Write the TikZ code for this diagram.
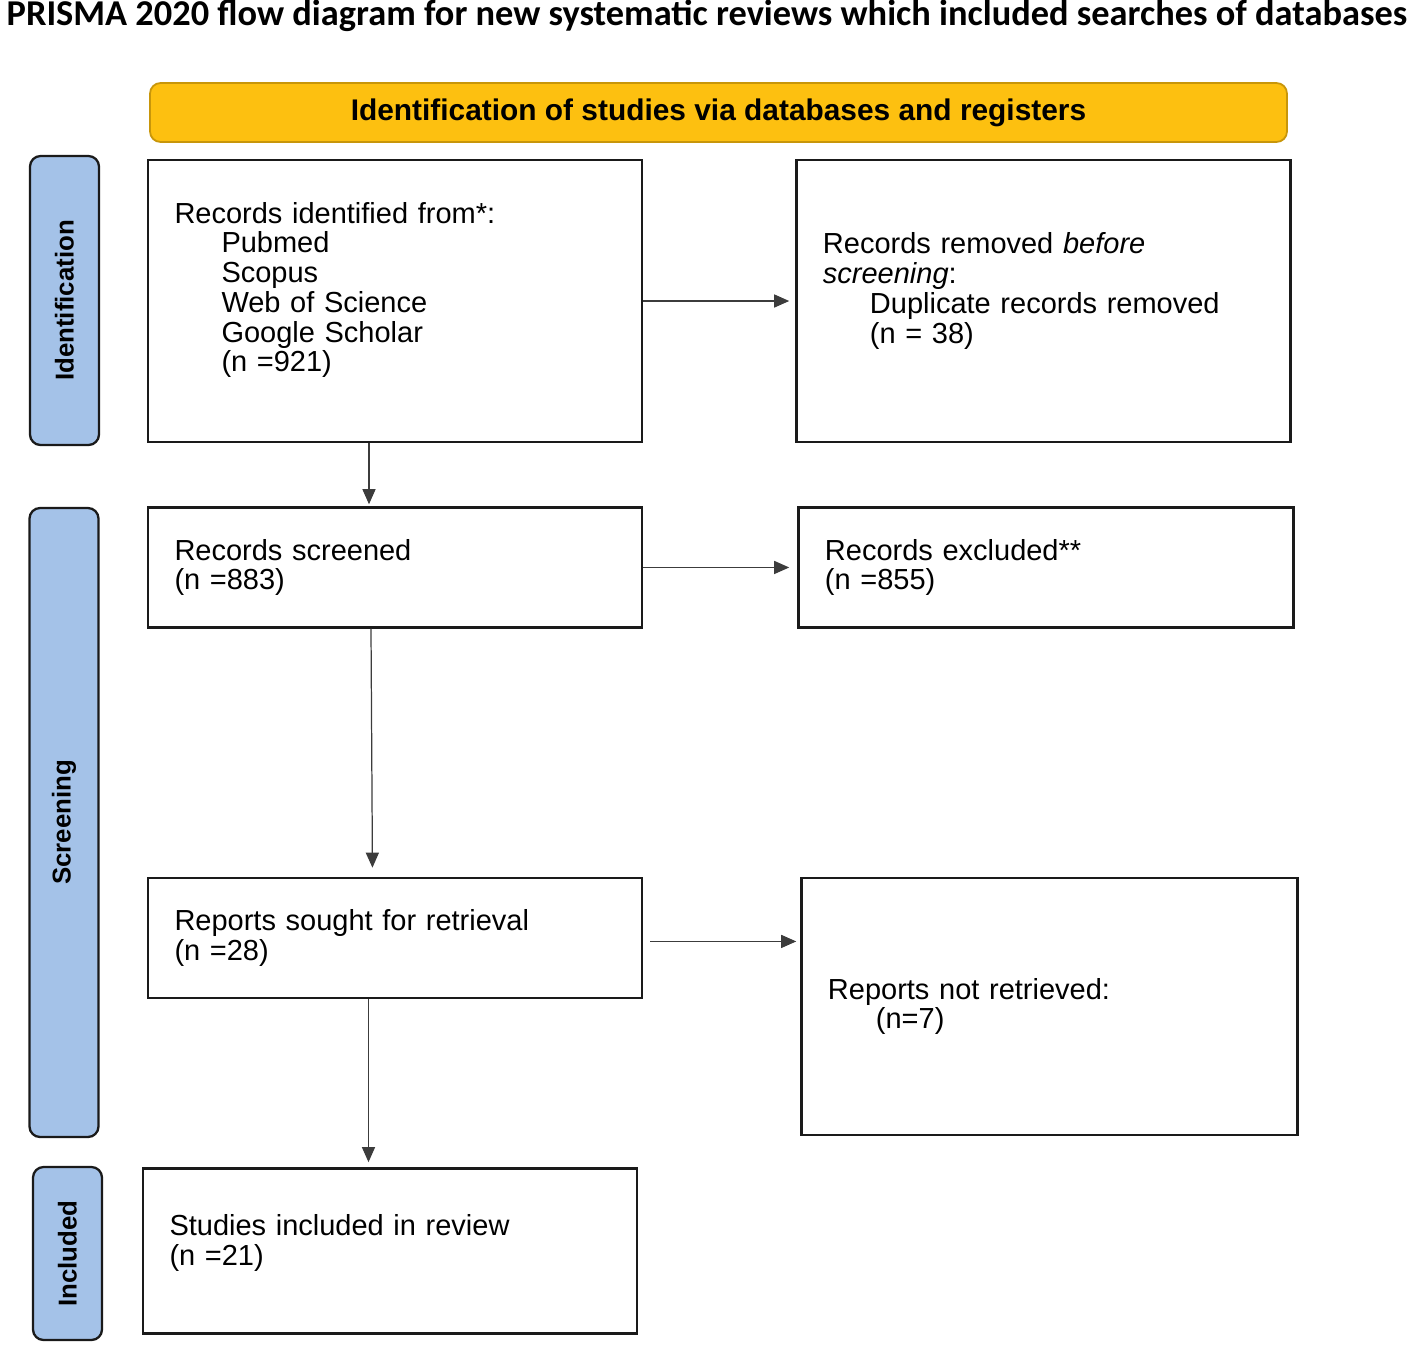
\documentclass[tikz,border=0pt]{standalone}
\usepackage{fontspec}
\setmainfont{Liberation Sans}
\newfontfamily\calfont{Carlito}
\usetikzlibrary{arrows.meta,positioning}
\definecolor{Gold}    {HTML}{FDC010}
\definecolor{GoldEdge}{HTML}{C8960A}
\definecolor{Sky}     {HTML}{A4C2E8}
\definecolor{Ink}     {HTML}{1A1A1A}

\begin{document}
\begin{tikzpicture}[
  box/.style={draw=Ink,line width=1.4pt,rectangle,fill=white,
    font=\fontsize{16.5}{16.9}\selectfont,text width=8.82cm,inner xsep=0.53cm,
    align=left,minimum height=2.4cm},
  side/.style={draw=Ink,line width=1.3pt,rectangle,rounded corners=6pt,fill=Sky,
    font=\fontsize{14.7}{17}\selectfont\bfseries,rotate=90,minimum height=1.38cm},
  arr/.style={-{Triangle[length=0.3cm,width=0.26cm]},line width=0.7pt,draw=Ink!85},
  node distance=1.26cm
]
\useasboundingbox (0,0) rectangle (28.34,-26.92);
\node[font=\calfont\fontsize{20.7}{24}\selectfont\bfseries](title) at (14.14,-0.32)
  {PRISMA 2020 flow diagram for new systematic reviews which included searches of databases};
\node[draw=GoldEdge,line width=1pt,fill=Gold,rounded corners=6pt,minimum width=22.74cm,
  minimum height=1.18cm,font=\fontsize{17}{20}\selectfont\bfseries](head) at (14.37,-2.25)
  {Identification of studies via databases and registers};
% phase bars
\node[side,minimum width=5.78cm](s1) at (1.29,-6.01){Identification};
\node[side,minimum width=12.58cm](s2) at (1.28,-16.45){Screening};
\node[side,minimum width=3.46cm](s3) at (1.35,-25.07){Included};
% boxes
\node[box,minimum height=5.64cm](n1) at (7.90,-6.02){Records identified from*:\\
  \hspace*{0.94cm}Pubmed\\\hspace*{0.94cm}Scopus\\\hspace*{0.94cm}Web of Science\\
  \hspace*{0.94cm}Google Scholar\\\hspace*{0.94cm}(n =921)\rule[-0.56cm]{0pt}{0pt}};
\node[box,minimum height=5.64cm,right=3.04cm of n1](n2){Records removed \textit{before}\\
  \textit{screening}:\\\hspace*{0.94cm}Duplicate records removed\\
  \hspace*{0.94cm}(n = 38)\rule[-0.52cm]{0pt}{0pt}};
\node[box,below=of n1](n3){Records screened\\(n =883)};
\node[box,text width=8.84cm,right=3.08cm of n3](n4){Records excluded**\\(n =855)};
\node[box,below=4.96cm of n3](n5){Reports sought for retrieval\\(n =28)};
\node[box,text width=8.86cm,minimum height=5.14cm,right=3.14cm of n5.north east,
  anchor=north west](n6){Reports not retrieved:\\\hspace*{0.96cm}(n=7)};
\node[box,minimum height=3.3cm,below=3.36cm of n5,xshift=-0.1cm](n7){Studies included in review\\
  (n =21)\rule[-0.44cm]{0pt}{0pt}};
% connectors
\draw[arr,shorten >=0.12cm](n1)--(n2);
\draw[arr,shorten >=0.16cm](n3)--(n4);
\draw[arr,shorten <=0.14cm,shorten >=0.08cm]([yshift=-0.07cm]n5.east)--([yshift=-0.07cm]n5.east-|n6.west);
\draw[arr,shorten >=0.04cm]([xshift=-0.52cm]n1.south)--([xshift=-0.52cm]n1.south|-n3.north);
\draw[arr,shorten >=0.18cm]([xshift=-0.48cm]n3.south)--([xshift=-0.45cm]n5.north);
\draw[arr,shorten >=0.1cm]([xshift=-0.53cm]n5.south)--([xshift=-0.53cm]n5.south|-n7.north);
\end{tikzpicture}
\end{document}
